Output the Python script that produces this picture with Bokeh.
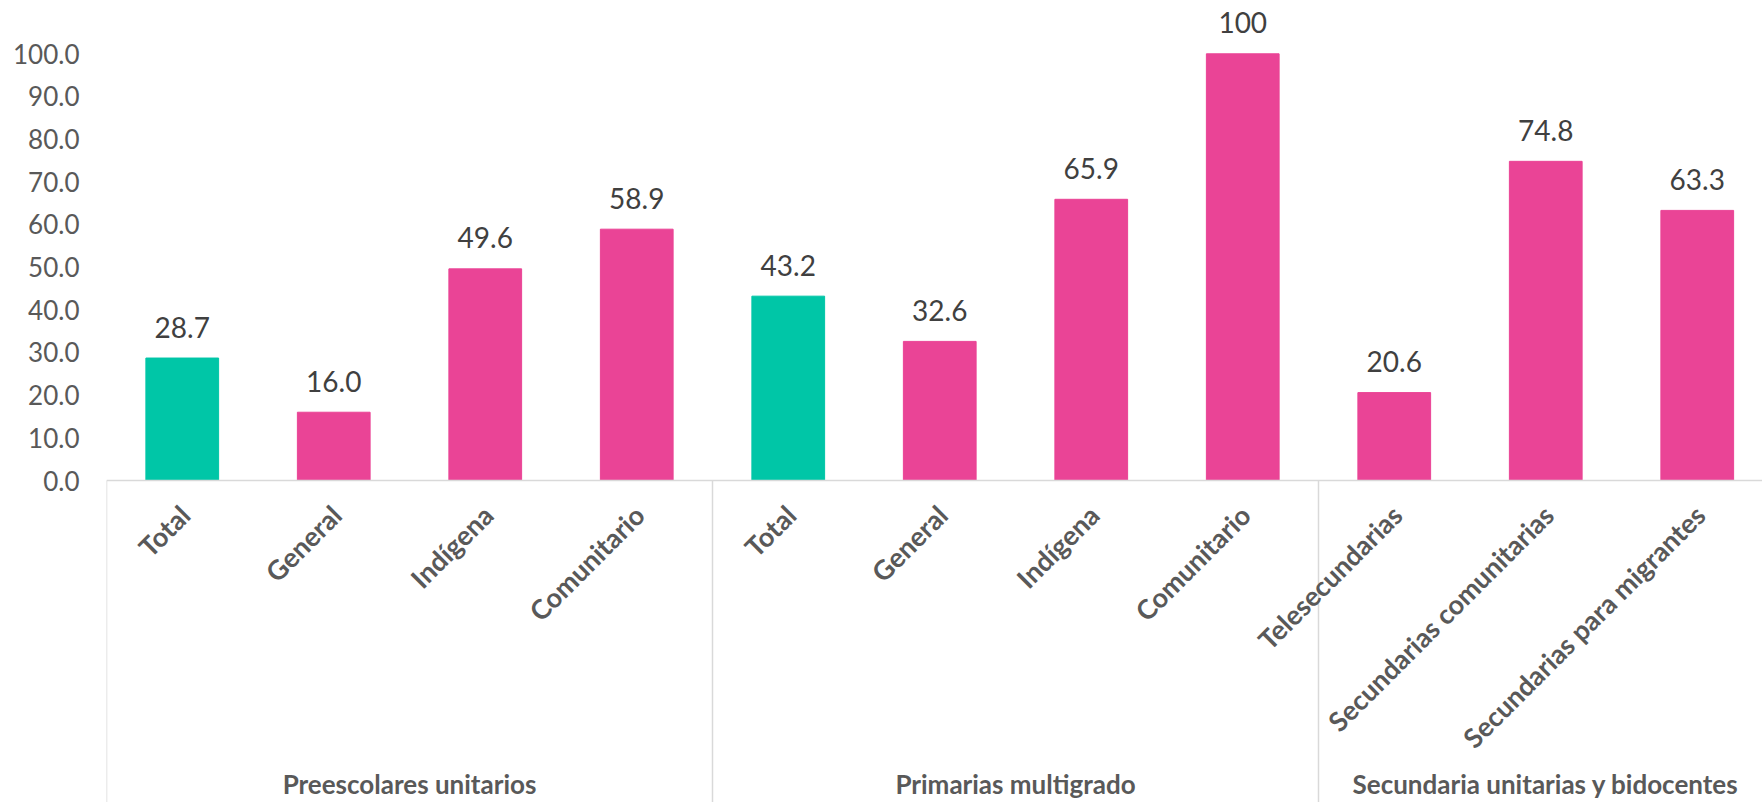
import numpy as np
from bokeh.plotting import figure
from bokeh.models import ColumnDataSource, Range1d, FixedTicker, NumeralTickFormatter, Span
from bokeh.core.properties import value
from bokeh.embed import file_html
from bokeh.resources import INLINE

# ---- data ----
groups = ["Preescolares unitarios", "Primarias multigrado", "Secundaria unitarias y bidocentes"]
group_sizes = [4, 4, 3]
categories = ["Total", "General", "Indígena", "Comunitario",
              "Total", "General", "Indígena", "Comunitario",
              "Telesecundarias", "Secundarias comunitarias", "Secundarias para migrantes"]
values = [28.7, 16.0, 49.6, 58.9, 43.2, 32.6, 65.9, 100, 20.6, 74.8, 63.3]
value_labels = ["28.7", "16.0", "49.6", "58.9", "43.2", "32.6", "65.9", "100", "20.6", "74.8", "63.3"]
y_ticks = [0, 10, 20, 30, 40, 50, 60, 70, 80, 90, 100]

TEAL = "#00C6A7"
PINK = "#EA4496"
GRID = "#D9D9D9"
FONT = "Lato"

n = len(categories)
xpos = np.arange(n) + 0.5
colors = [TEAL if c == "Total" else PINK for c in categories]

src = ColumnDataSource(dict(x=xpos, top=values, color=colors, lab=value_labels, cat=categories))

# geometry
W, H = 1762, 802
left = 106
px_per_unit = 4.267
zero_y = 480  # figure px from top
y_top = zero_y / px_per_unit
y_bot = -(H - zero_y) / px_per_unit
x_end = (W - left) / 151.5

p = figure(width=W, height=H, output_backend="svg", toolbar_location=None,
           x_range=Range1d(0, x_end), y_range=Range1d(y_bot, y_top),
           x_axis_location=None, min_border_left=left, min_border_right=0,
           min_border_top=0, min_border_bottom=0)
p.outline_line_color = None
p.xgrid.visible = False
p.ygrid.visible = False
p.background_fill_color = "white"
p.border_fill_color = "white"

ax = p.yaxis[0]
ax.ticker = FixedTicker(ticks=y_ticks)
ax.formatter = NumeralTickFormatter(format="0.0")
ax.axis_line_color = None
ax.major_tick_line_color = None
ax.minor_tick_line_color = None
ax.major_tick_out = 0
ax.major_tick_in = 0
ax.major_label_standoff = 27
ax.major_label_text_font = FONT
ax.major_label_text_font_size = "26px"
ax.major_label_text_color = "#595959"

# bars
p.vbar(x="x", top="top", bottom=0, width=0.48, color="color", source=src)

# value labels
p.text(x="x", y="top", text="lab", source=src, text_align="center", text_baseline="alphabetic",
       y_offset=-31, text_font=value(FONT), text_font_size="28px", text_color="#404040")

# axis line
p.add_layout(Span(location=0, dimension="width", line_color=GRID, line_width=1.5))

# group separators
bounds = np.concatenate([[0], np.cumsum(group_sizes)])
sep_x = bounds[:-1]
p.segment(x0=sep_x, y0=[0] * len(sep_x), x1=sep_x, y1=[y_bot] * len(sep_x),
          line_color=GRID, line_width=1.5)

# category labels (rotated)
p.text(x="x", y=0, text="cat", source=src, angle=np.pi / 4, text_align="right", text_baseline="top",
       x_offset=-9, y_offset=18, text_font=value(FONT), text_font_size="27px",
       text_font_style="bold", text_color="#595959")

# group labels
gcenters = (bounds[:-1] + bounds[1:]) / 2.0
gsrc = ColumnDataSource(dict(x=gcenters, t=groups))
p.text(x="x", y=y_bot, text="t", source=gsrc, text_align="center", text_baseline="alphabetic",
       y_offset=-19, text_font=value(FONT), text_font_size="26px", text_font_style="bold",
       text_color="#595959")

open("out.html", "w").write(file_html(p, INLINE))
